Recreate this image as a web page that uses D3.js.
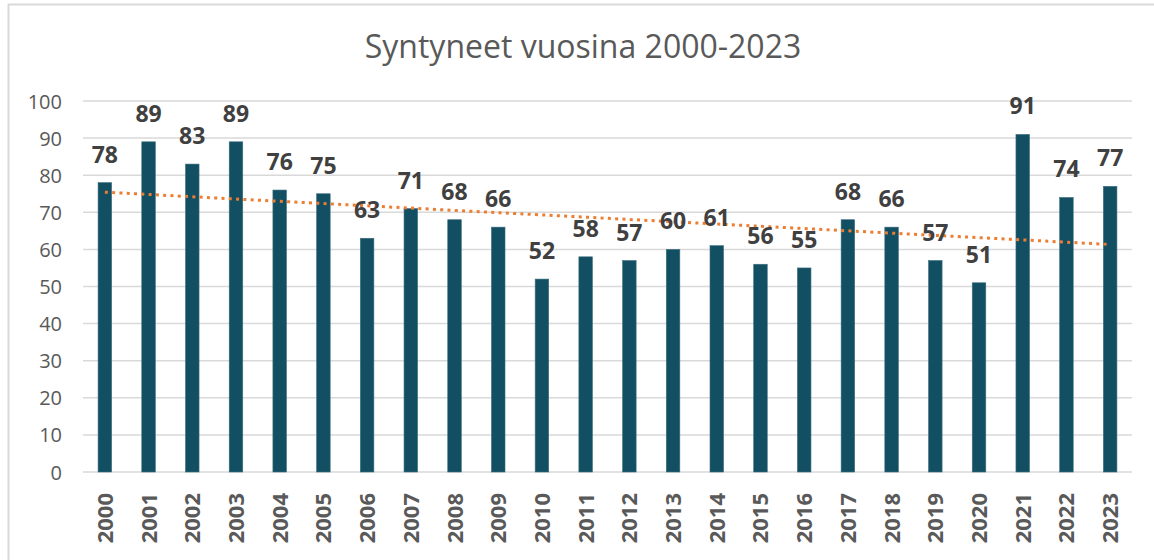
<!DOCTYPE html>
<html><head><meta charset="utf-8">
<script src="https://cdn.jsdelivr.net/npm/d3@7"></script>
<style>body{margin:0;background:#fff;}svg{display:block;}</style>
</head><body>
<svg id="chart" width="1154" height="560"></svg>
<script>
const titleText = "Syntyneet vuosina 2000-2023";
const years = ["2000","2001","2002","2003","2004","2005","2006","2007","2008","2009","2010","2011","2012","2013","2014","2015","2016","2017","2018","2019","2020","2021","2022","2023"];
const births = [78,89,83,89,76,75,63,71,68,66,52,58,57,60,61,56,55,68,66,57,51,91,74,77];
const yTicks = [0,10,20,30,40,50,60,70,80,90,100];

const svg = d3.select("#chart");
const W = 1154, H = 560;
const m = {left: 83, right: 1132, top: 101, bottom: 472};

// outer border
svg.append("path").attr("d", `M8.5,${H} L8.5,4.5 L${W},4.5`).attr("fill","none").attr("stroke","#d9d9d9").attr("stroke-width",2);

const x = d3.scaleBand().domain(years).range([m.left, m.right]).paddingInner(0.69).paddingOuter(0.345);
const y = d3.scaleLinear().domain([0,100]).range([m.bottom, m.top]);

// gridlines
svg.append("g").selectAll("line").data(yTicks).join("line")
  .attr("x1", m.left).attr("x2", m.right)
  .attr("y1", d => y(d)).attr("y2", d => y(d))
  .attr("stroke", "#d9d9d9").attr("stroke-width", 1.5);

// y axis labels
const yAxis = d3.axisLeft(y).tickValues(yTicks).tickSize(0).tickPadding(0);
const gy = svg.append("g").attr("transform", `translate(62,0)`).call(yAxis);
gy.select(".domain").remove();
gy.selectAll("text").attr("font-family","Open Sans").attr("font-size",20).attr("fill","#595959").attr("dy","0.35em");

// bars
svg.append("g").selectAll("rect").data(births).join("rect")
  .attr("x", (d,i) => x(years[i]))
  .attr("width", x.bandwidth())
  .attr("y", d => y(d))
  .attr("height", d => y(0) - y(d))
  .attr("fill", "#124f62")
  .attr("stroke", "#3c6f80").attr("stroke-width", 0.6);

// x axis labels
const xAxis = d3.axisBottom(x).tickSize(0).tickPadding(0);
const gx = svg.append("g").attr("transform", `translate(0,${m.bottom})`).call(xAxis);
gx.select(".domain").remove();
gx.selectAll("text")
  .attr("font-family","Open Sans").attr("font-weight","bold").attr("font-size",22).attr("fill","#595959")
  .attr("text-anchor","end").attr("dy",null).attr("y",0).attr("x",0)
  .attr("transform","translate(8,21) rotate(-90)");

// trend line (linear regression of the data)
const n = births.length;
const xs = d3.range(1, n+1);
const mx = d3.mean(xs), my = d3.mean(births);
const slope = d3.sum(xs, (v,i) => (v-mx)*(births[i]-my)) / d3.sum(xs, v => (v-mx)*(v-mx));
const icpt = my - slope*mx;
const cx = i => x(years[i]) + x.bandwidth()/2;
svg.append("line")
  .attr("x1", cx(0)).attr("y1", y(icpt + slope*1))
  .attr("x2", cx(n-1)).attr("y2", y(icpt + slope*n))
  .attr("stroke", "#ed7d31").attr("stroke-width", 3)
  .attr("stroke-dasharray", "3 4.3");

// data labels
svg.append("g").selectAll("text").data(births).join("text")
  .attr("x", (d,i) => cx(i))
  .attr("y", d => y(d) - 20)
  .attr("text-anchor","middle")
  .attr("font-family","Open Sans").attr("font-weight","bold").attr("font-size",23).attr("fill","#404040")
  .text(d => d);

// title
svg.append("text").attr("x", 583).attr("y", 58).attr("text-anchor","middle")
  .attr("font-family","Open Sans").attr("font-size",32).attr("fill","#595959")
  .text(titleText);
</script>
</body></html>
